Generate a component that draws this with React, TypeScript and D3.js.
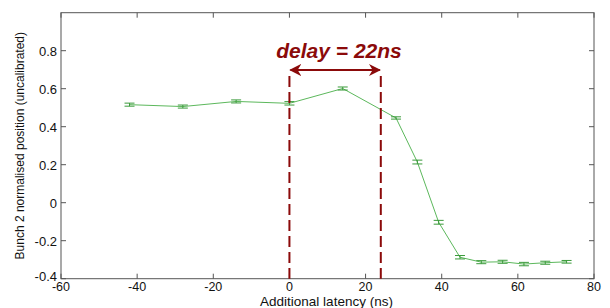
import React from "react";
import * as d3 from "d3";

// additional latency (ns) and normalised bunch 2 position
const latency = [-42, -28, -14, 0, 14, 28, 33.6, 39.2, 44.8, 50.4, 56, 61.6, 67.2, 72.8];
const position = [0.516, 0.506, 0.533, 0.523, 0.601, 0.446, 0.214, -0.103, -0.287, -0.313, -0.311, -0.323, -0.316, -0.311];
const errors = [0.008, 0.008, 0.008, 0.009, 0.008, 0.006, 0.01, 0.01, 0.009, 0.008, 0.008, 0.009, 0.008, 0.007];

const xTicks = [-60, -40, -20, 0, 20, 40, 60, 80];
const yTicks = [-0.4, -0.2, 0, 0.2, 0.4, 0.6, 0.8];
const delayMarks = [0, 24];
const delayLabel = "delay = 22ns";

const W = 610;
const H = 308;
const left = 61;
const right = 594;
const top = 12.7;
const bottom = 278.7;

const App = () => {
  const x = d3.scaleLinear().domain([-60, 80]).range([left, right]);
  const y = d3.scaleLinear().domain([-0.4, 1]).range([bottom, top]);

  const line = d3
    .line<number>()
    .x((d, i) => x(latency[i]))
    .y((d) => y(d));

  const axisColor = "#555";
  const red = "#8b0a0a";
  const font = "'Liberation Sans', Arial, sans-serif";

  return (
    <svg
      width={W}
      height={H}
      style={{ position: "absolute", left: 0, top: 0, background: "#fff" }}
    >
      {/* frame */}
      <rect
        x={left}
        y={top}
        width={right - left}
        height={bottom - top}
        fill="none"
        stroke={axisColor}
        strokeWidth={1}
      />

      {/* x ticks */}
      {xTicks.map((t) => (
        <g key={"x" + t}>
          <line x1={x(t)} x2={x(t)} y1={bottom} y2={bottom - 5} stroke={axisColor} />
          <line x1={x(t)} x2={x(t)} y1={top} y2={top + 5} stroke={axisColor} />
          <text
            x={x(t)}
            y={bottom + 12.5}
            textAnchor="middle"
            fontFamily={font}
            fontSize={12.5}
            fill="#111"
          >
            {t}
          </text>
        </g>
      ))}

      {/* y ticks */}
      {yTicks.map((t) => (
        <g key={"y" + t}>
          <line x1={left} x2={left + 5} y1={y(t)} y2={y(t)} stroke={axisColor} />
          <line x1={right} x2={right - 5} y1={y(t)} y2={y(t)} stroke={axisColor} />
          <text
            x={left - 4}
            y={y(t) + (t === -0.4 ? 2 : 5)}
            textAnchor="end"
            fontFamily={font}
            fontSize={13}
            fill="#111"
          >
            {t}
          </text>
        </g>
      ))}

      <text
        x={(left + right) / 2 - 1}
        y={306}
        textAnchor="middle"
        fontFamily={font}
        fontSize={13.5}
        fill="#111"
      >
        Additional latency (ns)
      </text>
      <text
        transform={`translate(24,${(top + bottom) / 2}) rotate(-90)`}
        textAnchor="middle"
        fontFamily={font}
        fontSize={12}
        fill="#111"
      >
        Bunch 2 normalised position (uncalibrated)
      </text>

      {/* data line */}
      <path d={line(position) || ""} fill="none" stroke="#5cb85c" strokeWidth={1} />

      {/* error bars */}
      {position.map((v, i) => {
        const cx = x(latency[i]);
        const e = errors[i];
        return (
          <g key={"e" + i} stroke="#3a9a3a" strokeWidth={1}>
            <line x1={cx} x2={cx} y1={y(v - e)} y2={y(v + e)} />
            <line x1={cx - 5} x2={cx + 5} y1={y(v - e)} y2={y(v - e)} />
            <line x1={cx - 5} x2={cx + 5} y1={y(v + e)} y2={y(v + e)} />
          </g>
        );
      })}

      {/* delay annotation */}
      {delayMarks.map((d) => (
        <line
          key={"d" + d}
          x1={x(d)}
          x2={x(d)}
          y1={76}
          y2={bottom}
          stroke={red}
          strokeWidth={2}
          strokeDasharray="11,5"
        />
      ))}
      <defs>
        <marker
          id="arr"
          viewBox="0 0 10 10"
          refX={9}
          refY={5}
          markerWidth={6}
          markerHeight={6}
          orient="auto-start-reverse"
        >
          <path d="M0,0 L10,5 L0,10 L3,5 Z" fill={red} />
        </marker>
      </defs>
      <line
        x1={x(delayMarks[0]) + 1}
        x2={x(delayMarks[1]) - 1}
        y1={70}
        y2={70}
        stroke={red}
        strokeWidth={2}
        markerStart="url(#arr)"
        markerEnd="url(#arr)"
      />
      <text
        x={339}
        y={58}
        textAnchor="middle"
        fontFamily={font}
        fontSize={21}
        fontWeight="bold"
        fontStyle="italic"
        fill={red}
      >
        {delayLabel}
      </text>
    </svg>
  );
};

export default App;
